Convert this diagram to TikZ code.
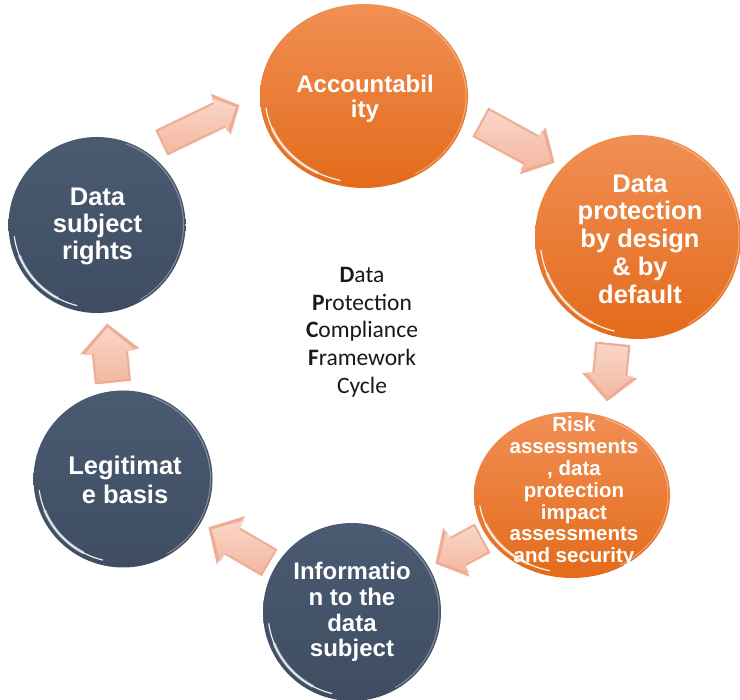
\documentclass[tikz,border=0pt]{standalone}
\usepackage{fontspec}
\setmainfont{Liberation Sans}
\newfontfamily\calibfont{Carlito}
\usetikzlibrary{calc,shapes.geometric}

\definecolor{orangetop}{RGB}{241,143,84}
\definecolor{orangebot}{RGB}{227,107,27}
\definecolor{slatetop}{RGB}{74,90,112}
\definecolor{slatebot}{RGB}{62,77,98}
\definecolor{peachrim}{RGB}{238,172,148}
\definecolor{peachlight}{RGB}{249,214,200}
\definecolor{peachmid}{RGB}{244,184,160}
\definecolor{captionink}{RGB}{25,25,25}

\tikzset{
  orb/.style={ellipse, inner sep=0pt, draw=none},
  warmorb/.style={orb, top color=orangetop, bottom color=orangebot},
  coolorb/.style={orb, top color=slatetop, bottom color=slatebot},
  orbtext/.style={text=white, align=center, inner sep=0pt},
  gloss/.style={white, line cap=round},
  arrowrim/.style={fill=peachrim, draw=white, line width=0.6pt, line join=round},
  arrowface/.style={top color=peachlight, bottom color=peachmid, line join=round},
}

% glossy reflections on a ball: #1 node, #2/#3 inner x/y radius
\newcommand\orbshine[3]{%
  \draw[gloss, line width=1.2pt, opacity=.9]
    ([shift={(188:#2 and #3)}]#1.center) arc[start angle=188, end angle=256, x radius=#2, y radius=#3];
  \draw[gloss, line width=3pt, opacity=.5]
    ([shift={(202:#2 and #3)}]#1.center) arc[start angle=202, end angle=242, x radius=#2, y radius=#3];
  \draw[gloss, line width=1pt, opacity=.35]
    ([shift={(-60:#2+3pt and #3+3pt)}]#1.center) arc[start angle=-60, end angle=70, x radius=#2+3pt, y radius=#3+3pt];
}

% bevelled block arrow: #1 tail, #2 tip, #3 shaft half width, #4 head half width, #5 head length
\newcommand\bevelarrow[5]{%
  \coordinate (#1-hb) at ($(#2)!#5!(#1)$);
  \coordinate (#1-it) at ($(#1)!2.5pt!(#2)$);
  \coordinate (#1-ip) at ($(#2)!4.5pt!(#1)$);
  \coordinate (#1-ihb) at ($(#2)!#5+1pt!(#1)$);
  \path[arrowrim] ($(#1)!#3!90:(#2)$) -- ($(#1-hb)!#3!90:(#2)$) -- ($(#1-hb)!#4!90:(#2)$)
    -- (#2) -- ($(#1-hb)!#4!-90:(#2)$) -- ($(#1-hb)!#3!-90:(#2)$) -- ($(#1)!#3!-90:(#2)$) -- cycle;
  \path[arrowface] ($(#1-it)!#3-2.5pt!90:(#2)$) -- ($(#1-ihb)!#3-2.5pt!90:(#2)$) -- ($(#1-ihb)!#4-5pt!90:(#2)$)
    -- (#1-ip) -- ($(#1-ihb)!#4-5pt!-90:(#2)$) -- ($(#1-ihb)!#3-2.5pt!-90:(#2)$) -- ($(#1-it)!#3-2.5pt!-90:(#2)$) -- cycle;
}

\begin{document}
\begin{tikzpicture}[x=1pt, y=1pt]
  \fill[white] (0,0) rectangle (740,700);
  \useasboundingbox (0,0) rectangle (740,700);

  % arrow end points around the cycle
  \coordinate (aA1) at (161,557); \coordinate (aA2) at (240,595);
  \coordinate (aB1) at (480,578); \coordinate (aB2) at (555,537);
  \coordinate (aC1) at (613,357); \coordinate (aC2) at (607,298);
  \coordinate (aD1) at (483,162); \coordinate (aD2) at (435,136);
  \coordinate (aE1) at (270,137); \coordinate (aE2) at (208,173);
  \coordinate (aF1) at (113,317); \coordinate (aF2) at (107,377);

  \bevelarrow{aA1}{aA2}{14.5pt}{24pt}{22pt}
  \bevelarrow{aB1}{aB2}{17pt}{28pt}{26pt}
  \bevelarrow{aC1}{aC2}{18pt}{29pt}{27pt}
  \bevelarrow{aD1}{aD2}{17pt}{29pt}{25pt}
  \bevelarrow{aE1}{aE2}{16pt}{29pt}{27pt}
  \bevelarrow{aF1}{aF2}{18.5pt}{31pt}{29pt}

  % the six stages
  \node[warmorb, minimum width=208pt, minimum height=184pt] (acc)   at (364,604) {};
  \node[warmorb, minimum width=206pt, minimum height=204pt] (dpd)   at (638,463) {};
  \node[warmorb, minimum width=196pt, minimum height=166pt] (risk)  at (572,205) {};
  \node[coolorb, minimum width=178pt, minimum height=178pt] (info)  at (352,88)  {};
  \node[coolorb, minimum width=179pt, minimum height=177pt] (legit) at (123,221) {};
  \node[coolorb, minimum width=177pt, minimum height=176pt] (dsr)   at (97,475)  {};

  \orbshine{acc}{99pt}{87pt}
  \orbshine{dpd}{98pt}{97pt}
  \orbshine{risk}{93pt}{78pt}
  \orbshine{info}{84pt}{84pt}
  \orbshine{legit}{84.5pt}{83.5pt}
  \orbshine{dsr}{83.5pt}{83pt}

  \node[orbtext, font=\bfseries\fontsize{24}{25}\selectfont] (acct) at (365,601) {Accountabil\\ity};
  \node[orbtext, font=\bfseries\fontsize{25.5}{27.7}\selectfont] (dpdt) at (640,461) {Data\\protection\\by design\\\& by\\default};
  \node[orbtext, font=\bfseries\fontsize{20.5}{21.8}\selectfont] (riskt) at (574,208) {Risk\\assessments\\, data\\protection\\impact\\assessments\\and security};
  \node[orbtext, font=\bfseries\fontsize{24}{25.8}\selectfont] (infot) at (352,88) {Informatio\\n to the\\data\\subject};
  \node[orbtext, font=\bfseries\fontsize{25.5}{29}\selectfont] (legitt) at (125,220) {Legitimat\\e basis};
  \node[orbtext, font=\bfseries\fontsize{25.5}{27}\selectfont] (dsrt) at (97.5,474) {Data\\subject\\rights};

  % caption in the middle of the cycle
  \node[align=center, text=captionink, font=\calibfont\fontsize{23.5}{27.7}\selectfont] (cap) at (362,368)
    {\textbf{D}ata\\\textbf{P}rotection\\\textbf{C}ompliance\\\textbf{F}ramework\\Cycle};
\end{tikzpicture}
\end{document}
